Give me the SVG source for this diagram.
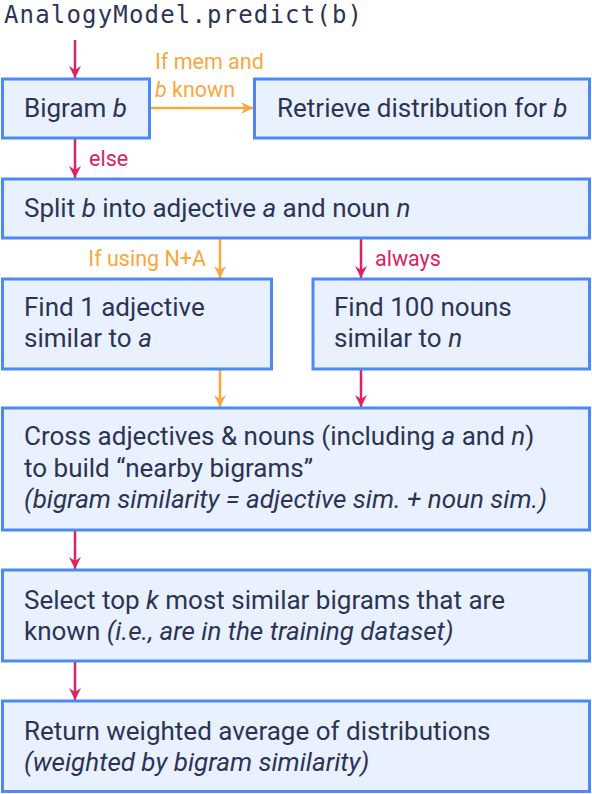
<svg xmlns="http://www.w3.org/2000/svg" width="592" height="794" viewBox="0 0 592 794">
<style>
.box{fill:#e8f1fd;stroke:#4a8af2;stroke-width:3}
.t{font-family:Roboto,"Liberation Sans",sans-serif;font-size:26px;fill:#2c3455}
.i{font-style:italic}
.lbl{font-family:Roboto,"Liberation Sans",sans-serif;font-size:21.5px}
.pk{stroke:#dc2260;stroke-width:2.5;fill:none}
.or{stroke:#fca640;stroke-width:2.5;fill:none}
.mono{font-family:"DejaVu Sans Mono","Liberation Mono",monospace;font-size:24px;fill:#2c3455}
</style>
<defs>
<marker id="ap" markerUnits="userSpaceOnUse" markerWidth="14" markerHeight="14" refX="12" refY="6" orient="auto">
<path d="M0,0 L12,6 L0,12 L4,6 z" fill="#dc2260"/>
</marker>
<marker id="ao" markerUnits="userSpaceOnUse" markerWidth="14" markerHeight="14" refX="12" refY="6" orient="auto">
<path d="M0,0 L12,6 L0,12 L4,6 z" fill="#fca640"/>
</marker>
</defs>
<text class="mono" x="4" y="23" textLength="358" lengthAdjust="spacing">AnalogyModel.predict(b)</text>
<g id="connectors">
<line class="pk" x1="75" y1="40" x2="75" y2="78" marker-end="url(#ap)"/>
<line class="or" x1="150" y1="108" x2="253" y2="108" marker-end="url(#ao)"/>
<text class="lbl" x="155" y="69" fill="#fca640">If mem and</text>
<text class="lbl" x="155" y="97" fill="#fca640"><tspan class="i">b</tspan> known</text>
<line class="pk" x1="75" y1="139" x2="75" y2="178" marker-end="url(#ap)"/>
<text class="lbl" x="89" y="166" fill="#dc2260">else</text>
<line class="or" x1="220" y1="238" x2="220" y2="278" marker-end="url(#ao)"/>
<text class="lbl" x="206" y="266" fill="#fca640" text-anchor="end">If using N+A</text>
<line class="pk" x1="361" y1="238" x2="361" y2="278" marker-end="url(#ap)"/>
<text class="lbl" x="375" y="266" fill="#dc2260">always</text>
<line class="or" x1="220" y1="369" x2="220" y2="407" marker-end="url(#ao)"/>
<line class="pk" x1="361" y1="369" x2="361" y2="407" marker-end="url(#ap)"/>
<line class="pk" x1="75" y1="531" x2="75" y2="569" marker-end="url(#ap)"/>
<line class="pk" x1="75" y1="662" x2="75" y2="700" marker-end="url(#ap)"/>
</g>
<g id="bigram">
<rect class="box" x="2.5" y="79" width="147" height="59"/>
<text class="t" x="24" y="117">Bigram <tspan class="i">b</tspan></text>
</g>
<g id="retrieve">
<rect class="box" x="254.5" y="79" width="335" height="59"/>
<text class="t" x="277" y="117">Retrieve distribution for <tspan class="i">b</tspan></text>
</g>
<g id="split">
<rect class="box" x="2.5" y="179" width="587" height="59"/>
<text class="t" x="24" y="217">Split <tspan class="i">b</tspan> into adjective <tspan class="i">a</tspan> and noun <tspan class="i">n</tspan></text>
</g>
<g id="findadj">
<rect class="box" x="2.5" y="279" width="269" height="90"/>
<text class="t" x="24" y="316">Find 1 adjective</text>
<text class="t" x="24" y="347">similar to <tspan class="i">a</tspan></text>
</g>
<g id="findnoun">
<rect class="box" x="313" y="279" width="276.5" height="90"/>
<text class="t" x="334" y="316">Find 100 nouns</text>
<text class="t" x="334" y="347">similar to <tspan class="i">n</tspan></text>
</g>
<g id="cross">
<rect class="box" x="2.5" y="408" width="587" height="122"/>
<text class="t" x="24" y="445">Cross adjectives &amp; nouns (including <tspan class="i">a</tspan> and <tspan class="i">n</tspan>)</text>
<text class="t" x="24" y="477">to build “nearby bigrams”</text>
<text class="t i" x="24" y="508">(bigram similarity = adjective sim. + noun sim.)</text>
</g>
<g id="select">
<rect class="box" x="2.5" y="570" width="587" height="91"/>
<text class="t" x="24" y="609">Select top <tspan class="i">k</tspan> most similar bigrams that are</text>
<text class="t" x="24" y="640">known <tspan class="i">(i.e., are in the training dataset)</tspan></text>
</g>
<g id="return">
<rect class="box" x="2.5" y="701" width="587" height="90.5"/>
<text class="t" x="24" y="740">Return weighted average of distributions</text>
<text class="t i" x="24" y="771">(weighted by bigram similarity)</text>
</g>
</svg>
